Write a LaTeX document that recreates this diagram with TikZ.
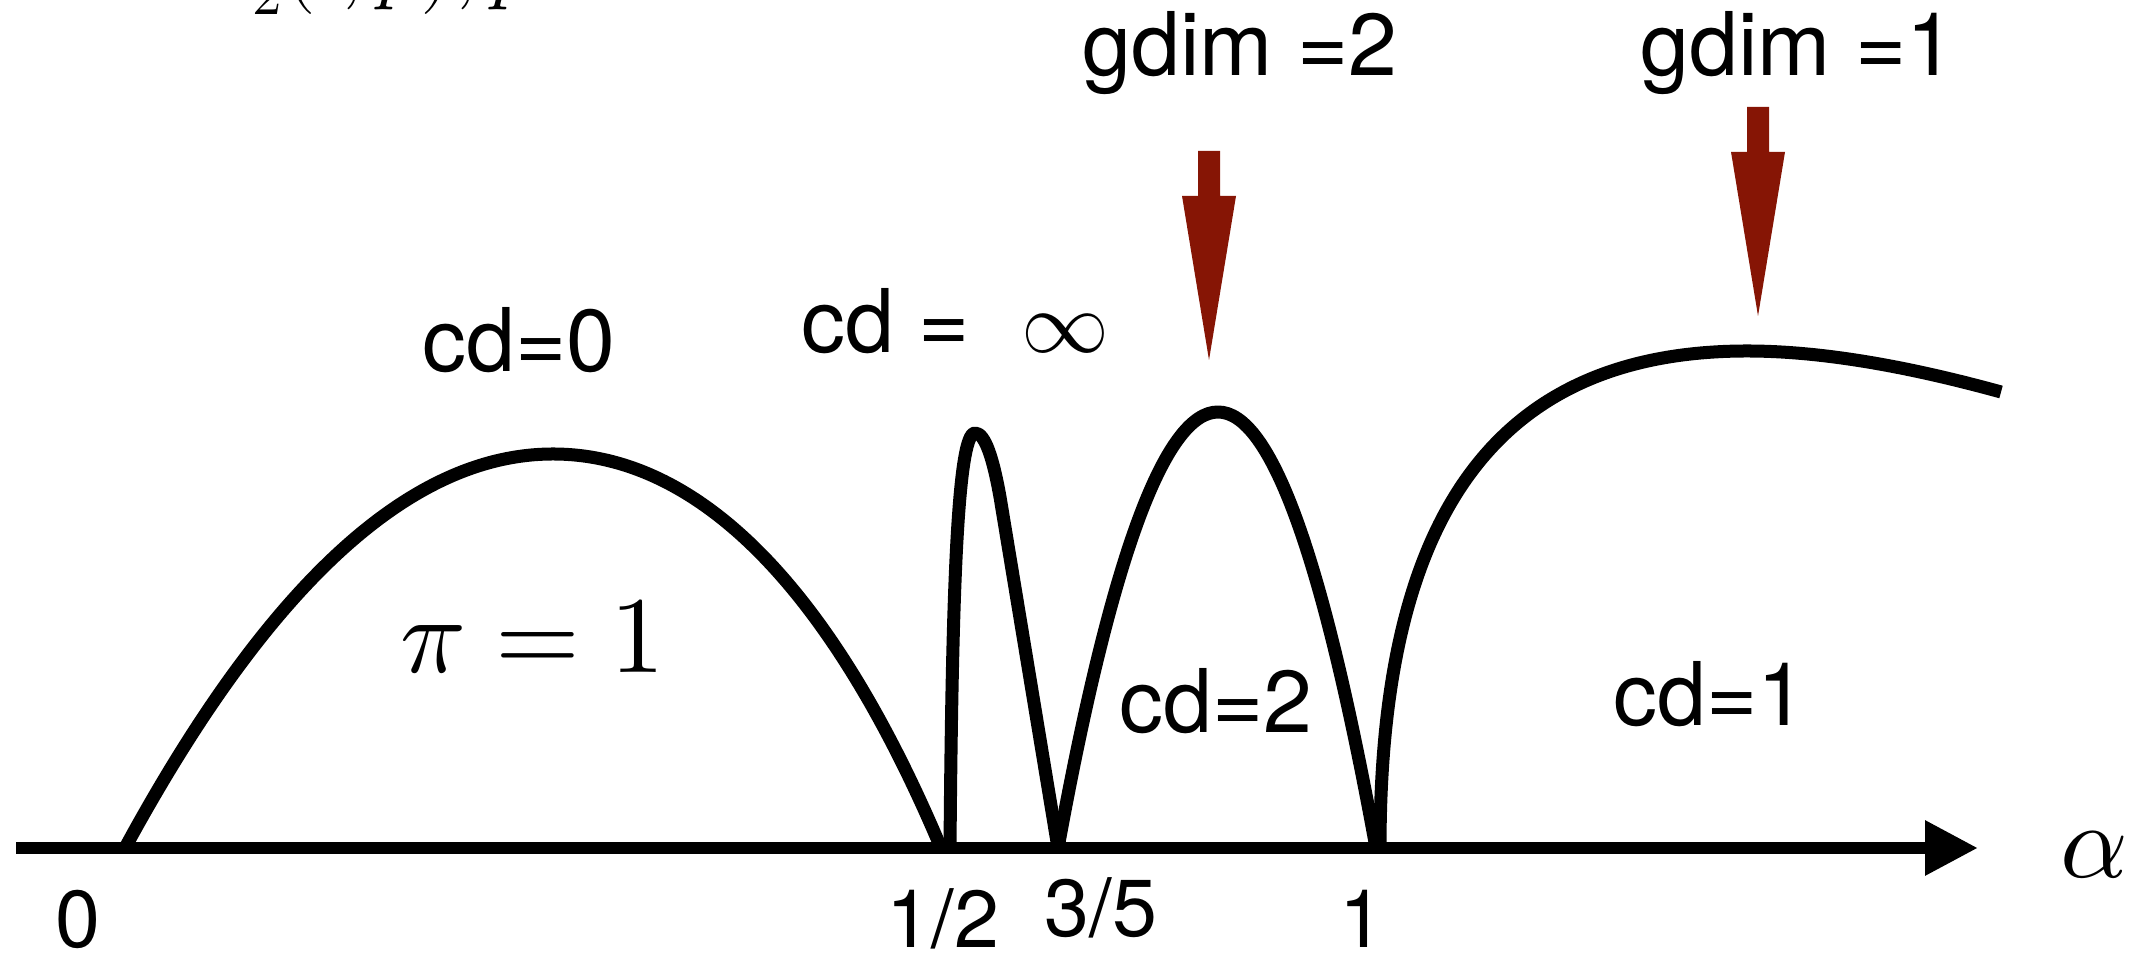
\documentclass[tikz,border=0pt]{standalone}
\usepackage{fontspec}
\usepackage{unicode-math}
\setsansfont{TeX Gyre Heros}
\usetikzlibrary{arrows.meta}
\definecolor{ArrowRed}{HTML}{861505}

\begin{document}
\begin{tikzpicture}[line join=round,
  curve/.style={line width=3.7pt},
  lbl/.style={font=\sffamily\fontsize{25}{30}\selectfont,inner sep=0pt,anchor=base},
  tick/.style={font=\sffamily\fontsize{23}{28}\selectfont,inner sep=0pt,anchor=base}]
  \useasboundingbox (0,0) rectangle (21.48,9.53);
  \coordinate (O) at (0.16,1.05); \coordinate (E) at (19.78,1.05);
  \draw[line width=3.5pt,-{Triangle[length=5.3mm,width=5.2mm]}] (O) -- (E);
  \node[anchor=base,inner sep=0pt] (alpha) at (20.94,0.75) {\fontsize{30}{36}\selectfont$\alpha$};

  \coordinate (Pa) at (5.53,4.99); \coordinate (Pb) at (9.75,5.20);
  \coordinate (Pc) at (12.18,5.41); \coordinate (Pd) at (17.47,6.02);
  \draw[curve] (1.25,1.05) .. controls (2.68,3.68) and (4.10,4.99) .. (Pa)
    .. controls (6.90,4.99) and (8.25,3.80) .. (9.41,1.05);
  \draw[curve] (9.50,1.05) .. controls (9.52,3.50) and (9.57,5.20) .. (Pb)
    .. controls (9.85,5.20) and (9.93,4.95) .. (10.00,4.56) -- (10.58,1.05);
  \draw[curve] (10.58,1.05) .. controls (11.11,3.96) and (11.65,5.41) .. (Pc)
    .. controls (12.71,5.41) and (13.23,3.96) .. (13.76,1.05);
  \draw[curve] (13.80,1.05) .. controls (13.80,4.30) and (14.90,6.02) .. (Pd)
    .. controls (18.30,6.02) and (19.21,5.83) .. (20.01,5.61);

  \foreach \x/\y in {12.09/5.93,17.58/6.37}
    \fill[ArrowRed,shift={(\x,\y)}] (0,0) -- (-0.27,1.64) -- (-0.11,1.64) -- (-0.11,2.09)
      -- (0.11,2.09) -- (0.11,1.64) -- (0.27,1.64) -- cycle;

  \node[anchor=base west,inner sep=0pt] (title) at (1.94,9.59) {\fontsize{24}{29}\selectfont$L_2(\cdot,p),p$};
  \node[lbl] (gdimtwo) at (12.40,8.77) {gdim =2};
  \node[lbl] (gdimone) at (17.98,8.77) {gdim =1};
  \node[lbl,anchor=base west] (cdinf) at (8.01,6.00) {cd = \hspace{0.3em}$\infty$};
  \node[lbl] (cdzero) at (5.19,5.81) {cd=0};
  \node[anchor=base,inner sep=0pt] (pione) at (5.33,2.80) {\fontsize{31}{36}\selectfont$\pi = 1$};
  \node[lbl] (cdtwo) at (12.16,2.20) {cd=2};
  \node[lbl] (cdone) at (17.10,2.27) {cd=1};

  \node[tick] (tzero) at (0.78,0.05) {0};
  \node[tick] (thalf) at (9.43,0.05) {1/2};
  \node[tick] (tthree) at (11.01,0.16) {3/5};
  \node[tick] (tone) at (13.62,0.05) {1};
\end{tikzpicture}
\end{document}
